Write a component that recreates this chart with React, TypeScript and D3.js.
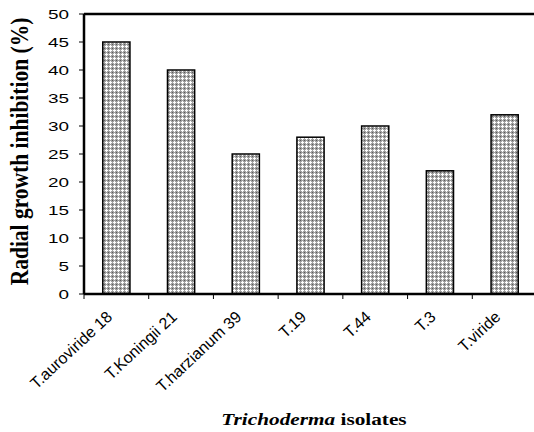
import React from "react";
import * as d3 from "d3";

const categories = ["T.auroviride 18", "T.Koningii 21", "T.harzianum 39", "T.19", "T.44", "T.3", "T.viride"];
const values = [45, 40, 25, 28, 30, 22, 32];
const yTicks = [0, 5, 10, 15, 20, 25, 30, 35, 40, 45, 50];

const W = 534, H = 432;
const M = { left: 84, top: 14, right: -3, bottom: 138 };

export default function App() {
  const x = d3.scaleBand<string>().domain(categories).range([M.left, W - M.right]).paddingInner(0.58).paddingOuter(0.29);
  const xb = d3.scaleBand<string>().domain(categories).range([M.left, W - M.right]);
  const y = d3.scaleLinear().domain([0, 50]).range([H - M.bottom, M.top]);
  const y0 = y(0);
  const sans = "Liberation Sans, Arial, sans-serif";
  const serif = "Liberation Serif, Times New Roman, serif";
  return (
    <svg width={W} height={H} style={{ position: "absolute", left: 0, top: 0, background: "#fff" }}>
      <defs>
        <pattern id="chk" width="4" height="4" patternUnits="userSpaceOnUse">
          <rect width="4" height="4" fill="#a0a0a0" />
          <rect x="0" y="0" width="1" height="1" fill="#5a5a5a" />
          <rect x="2" y="1" width="1" height="3" fill="#ffffff" />
          <rect x="1" y="2" width="3" height="1" fill="#ffffff" />
        </pattern>
      </defs>
      <line x1={M.left} x2={W} y1={M.top} y2={M.top} stroke="#000" strokeWidth={2.5} />
      {categories.map((c, i) => (
        <rect key={c} x={x(c)} y={y(values[i])} width={x.bandwidth()} height={y0 - y(values[i])}
          fill="url(#chk)" stroke="#000" strokeWidth={1.5} />
      ))}
      <line x1={M.left} x2={M.left} y1={M.top} y2={y0} stroke="#000" strokeWidth={2.5} />
      {yTicks.map(t => (
        <g key={t}>
          <line x1={M.left - 5} x2={M.left} y1={y(t)} y2={y(t)} stroke="#000" strokeWidth={1} />
          <text transform={`translate(69,${y(t)}) scale(1.4,1)`} dy="0.35em" textAnchor="end" fontFamily={sans} fontSize={13.5}>{t}</text>
        </g>
      ))}
      <line x1={M.left} x2={W} y1={y0} y2={y0} stroke="#000" strokeWidth={2.5} />
      {categories.map((c) => (
        <line key={"t" + c} x1={xb(c) as number} x2={xb(c) as number} y1={y0} y2={y0 + 5} stroke="#000" strokeWidth={1} />
      ))}
      {categories.map((c) => {
        const cx = (x(c) as number) + x.bandwidth() / 2 - 7;
        const cy = y0 + 20;
        return (
          <text key={"l" + c} transform={`translate(${cx},${cy}) rotate(-43)`} textAnchor="end" dy="0.35em"
            fontFamily={sans} fontSize={16}>{c}</text>
        );
      })}
      <text transform={`translate(28,151.5) scale(1.2,1) rotate(-90)`} textAnchor="middle"
        fontFamily={serif} fontWeight="bold" fontSize={21.5}>Radial growth inhibition (%)</text>
      <text transform={`translate(314,425) scale(1.33,1)`} textAnchor="middle" fontFamily={serif} fontWeight="bold" fontSize={16}>
        <tspan fontStyle="italic">Trichoderma</tspan> isolates
      </text>
    </svg>
  );
}
